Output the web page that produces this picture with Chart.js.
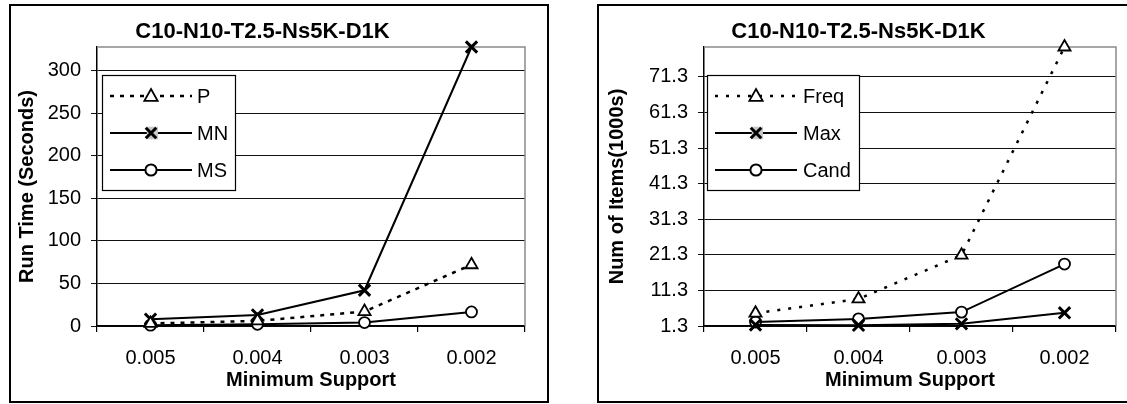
<!DOCTYPE html>
<html>
<head>
<meta charset="utf-8">
<script src="https://cdn.jsdelivr.net/npm/chart.js@4.4.1/dist/chart.umd.min.js"></script>
<style>
  html, body { margin: 0; padding: 0; background: #fff; }
  body { width: 1127px; height: 404px; position: relative; overflow: hidden; }
  .frame { position: absolute; border: 2px solid #000; box-sizing: border-box; pointer-events: none; }
  canvas { position: absolute; }
</style>
</head>
<body>
<div class="frame" style="left:9px; top:4px; width:540px; height:399px;"></div>
<div class="frame" style="left:597px; top:4px; width:560px; height:399px;"></div>
<div style="position:absolute; left:0; top:0; width:556px; height:404px;"><canvas id="left"></canvas></div>
<div style="position:absolute; left:600px; top:0; width:527px; height:404px;"><canvas id="right"></canvas></div>
<script>
// ---- data ----
const categories = ['0.005', '0.004', '0.003', '0.002'];
const chartTitle = 'C10-N10-T2.5-Ns5K-D1K';

const runP  = [3, 6, 17, 72];
const runMN = [8, 13, 42, 328];
const runMS = [1, 2, 4, 16.5];
const runTicks = [0, 50, 100, 150, 200, 250, 300];

const itemsFreq = [4.9, 8.9, 21.2, 79.7];
const itemsMax  = [1.6, 1.5, 1.9, 5.0];
const itemsCand = [2.4, 3.3, 5.2, 18.7];
const itemsTicks = [1.3, 11.3, 21.3, 31.3, 41.3, 51.3, 61.3, 71.3];

const FONT = '"Liberation Sans", Arial, Helvetica, sans-serif';

// plot-area border (gray top/right)
const plotBorder = {
  id: 'plotBorder',
  beforeDatasetsDraw(chart) {
    const {ctx, chartArea: a} = chart;
    ctx.save();
    ctx.strokeStyle = '#8a8a8a';
    ctx.lineWidth = 1.5;
    ctx.beginPath();
    ctx.moveTo(a.left, a.top);
    ctx.lineTo(a.right, a.top);
    ctx.lineTo(a.right, a.bottom);
    ctx.stroke();
    ctx.restore();
  }
};

function drawMarker(ctx, style, x, y, r) {
  ctx.save();
  ctx.strokeStyle = '#000';
  ctx.fillStyle = '#fff';
  if (style === 'triangle') {
    ctx.lineWidth = 1.8;
    ctx.beginPath();
    ctx.moveTo(x, y - r);
    ctx.lineTo(x + r * 0.95, y + r * 0.7);
    ctx.lineTo(x - r * 0.95, y + r * 0.7);
    ctx.closePath();
    ctx.fill(); ctx.stroke();
  } else if (style === 'crossRot') {
    ctx.fillStyle = '#c8c8c8';
    ctx.fillRect(x - r * 0.6, y - r * 0.9, r * 1.6, r * 1.8);
    ctx.lineWidth = 3;
    const d = r * 0.75;
    ctx.beginPath();
    ctx.moveTo(x - d, y - d); ctx.lineTo(x + d, y + d);
    ctx.moveTo(x + d, y - d); ctx.lineTo(x - d, y + d);
    ctx.stroke();
  } else {
    ctx.lineWidth = 2;
    ctx.beginPath();
    ctx.arc(x, y, r * 0.8, 0, Math.PI * 2);
    ctx.fill(); ctx.stroke();
  }
  ctx.restore();
}

// legend box drawn inside the plot area
const boxLegend = {
  id: 'boxLegend',
  afterDraw(chart, args, opts) {
    const {ctx} = chart;
    const b = opts.box;
    ctx.save();
    ctx.fillStyle = '#fff';
    ctx.fillRect(b.x, b.y, b.w, b.h);
    ctx.strokeStyle = '#000';
    ctx.lineWidth = 1.2;
    ctx.strokeRect(b.x + 0.5, b.y + 0.5, b.w, b.h);
    chart.data.datasets.forEach((ds, i) => {
      const y = b.y + opts.firstY + i * opts.gap;
      ctx.save();
      ctx.strokeStyle = '#000';
      ctx.lineWidth = ds.borderWidth;
      ctx.setLineDash(ds.borderDash || []);
      ctx.beginPath();
      ctx.moveTo(b.x + opts.lineX0, y);
      ctx.lineTo(b.x + opts.lineX1, y);
      ctx.stroke();
      ctx.restore();
      drawMarker(ctx, ds.pointStyle, b.x + (opts.lineX0 + opts.lineX1) / 2, y, 7);
      ctx.fillStyle = '#000';
      ctx.font = '20px ' + FONT;
      ctx.textBaseline = 'middle';
      ctx.textAlign = 'left';
      ctx.fillText(ds.label, b.x + opts.textX, y + 1);
    });
    ctx.restore();
  }
};

function ds(label, data, style, dash, width) {
  return {
    label, data,
    borderColor: '#000',
    borderWidth: width,
    borderDash: dash,
    pointStyle: style,
    pointRadius: style === 'circle' ? 5.5 : (style === 'crossRot' ? 8 : 7),
    pointBorderWidth: style === 'crossRot' ? 3 : 1.8,
    pointBackgroundColor: '#fff',
    pointBorderColor: '#000',
    tension: 0,
    clip: false
  };
}

function makeChart(id, w, cfg) {
  const canvas = document.getElementById(id);
  canvas.width = w; canvas.height = 404;
  canvas.style.width = w + 'px'; canvas.style.height = '404px';
  return new Chart(canvas, {
    type: 'line',
    data: { labels: categories, datasets: cfg.datasets },
    options: {
      responsive: false,
      animation: false,
      devicePixelRatio: 1,
      layout: { padding: { left: 0, right: cfg.padRight, top: 0, bottom: 0 } },
      plugins: {
        legend: { display: false },
        tooltip: { enabled: false },
        title: {
          display: true, text: chartTitle, color: '#000',
          font: { family: FONT, size: 22, weight: 'bold', lineHeight: 1.2 },
          padding: { top: 19, bottom: 1.6 }
        },
        boxLegend: cfg.legend
      },
      scales: {
        x: {
          type: 'category',
          offset: true,
          grid: { offset: true, drawOnChartArea: false, drawTicks: true, tickLength: 6, color: '#000', lineWidth: 1.2 },
          border: { color: '#000', width: 1.5 },
          ticks: { color: '#000', font: { family: FONT, size: 20 }, padding: 14, maxRotation: 0 },
          title: { display: true, text: 'Minimum Support', color: '#000',
                   font: { family: FONT, size: 20, weight: 'bold', lineHeight: 1.2 },
                   padding: { top: 0, bottom: 12 } },
          afterFit(s) { s.height = 78; }
        },
        y: {
          type: 'linear',
          min: cfg.min, max: cfg.max,
          afterBuildTicks(s) { s.ticks = cfg.ticks.map(v => ({ value: v })); },
          grid: { drawTicks: true, tickLength: 6, color: '#111', lineWidth: 1 },
          border: { color: '#000', width: 1.5 },
          ticks: { color: '#000', font: { family: FONT, size: 20 }, padding: 10,
                   callback: (v) => String(v) },
          title: { display: true, text: cfg.yTitle, color: '#000',
                   font: { family: FONT, size: 20, weight: 'bold', lineHeight: 1.2 },
                   padding: { top: cfg.yTitlePad, bottom: 0 } },
          afterFit(s) { s.width = cfg.yWidth; }
        }
      }
    },
    plugins: [plotBorder, boxLegend]
  });
}

makeChart('left', 556, {
  datasets: [
    ds('P', runP, 'triangle', [4, 6], 2.5),
    ds('MN', runMN, 'crossRot', [], 2),
    ds('MS', runMS, 'circle', [], 2)
  ],
  min: 0, max: 328, ticks: runTicks,
  yTitle: 'Run Time (Seconds)', yTitlePad: 15, yWidth: 97, padRight: 31,
  legend: { box: { x: 102, y: 75, w: 133, h: 115 }, firstY: 21, gap: 37,
            lineX0: 8, lineX1: 90, textX: 95 }
});

makeChart('right', 527, {
  datasets: [
    ds('Freq', itemsFreq, 'triangle', [3, 8], 2.5),
    ds('Max', itemsMax, 'crossRot', [], 2),
    ds('Cand', itemsCand, 'circle', [], 2)
  ],
  min: 1.3, max: 79.7, ticks: itemsTicks,
  yTitle: 'Num of Items(1000s)', yTitlePad: 5, yWidth: 104, padRight: 10,
  legend: { box: { x: 107, y: 75, w: 152, h: 115 }, firstY: 21, gap: 37,
            lineX0: 8, lineX1: 90, textX: 96 }
});
</script>
</body>
</html>
